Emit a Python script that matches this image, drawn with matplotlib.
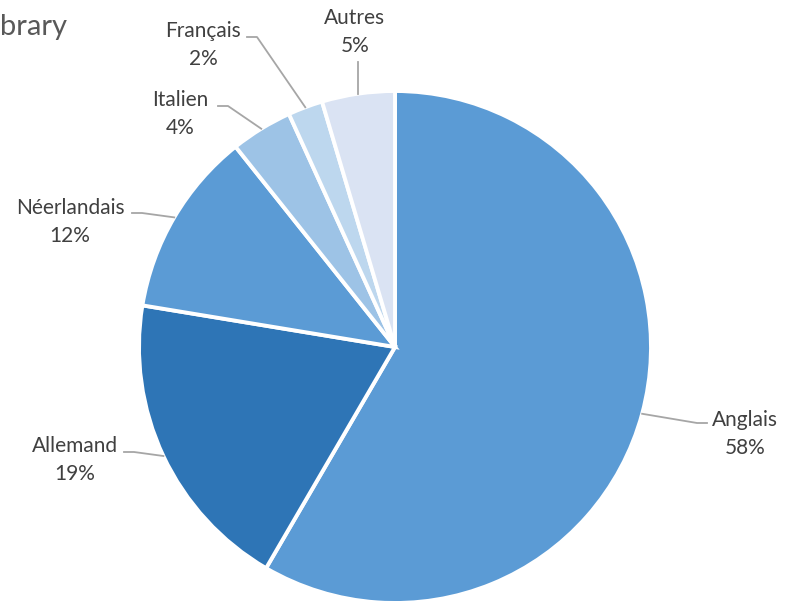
import numpy as np
import matplotlib.pyplot as plt

plt.rcParams['font.family'] = ['Lato', 'DejaVu Sans']

langues = ["Anglais", "Allemand", "Néerlandais", "Italien", "Français", "Autres"]
parts = [58.4, 19.2, 11.7, 3.9, 2.2, 4.6]
couleurs = ["#5B9BD5", "#2E75B6", "#5B9BD5", "#9DC3E6", "#BDD7EE", "#DAE3F3"]

fig = plt.figure(figsize=(7.85, 6.01), dpi=100)
ax = fig.add_axes([0, 0, 1, 1])

cx, cy, r = 395, 601 - 347, 256
wedges, _ = ax.pie(parts, colors=couleurs, startangle=90, counterclock=False,
                   center=(cx, cy), radius=r,
                   wedgeprops=dict(edgecolor="white", linewidth=2.8))

# label position (text centre) and elbow point, in pixels from top-left
lab_pos = {
    "Anglais": ((745, 434), (697, 423), 'left'),
    "Allemand": ((75, 460), (134, 452), 'right'),
    "Néerlandais": ((70, 222), (142, 213), 'right'),
    "Italien": ((180, 114), (228, 106), 'right'),
    "Français": ((203, 45), (257, 37), 'right'),
    "Autres": ((355, 32), (358, 62), 'up'),
}

for w, nom, p in zip(wedges, langues, parts):
    ang = np.deg2rad((w.theta1 + w.theta2) / 2)
    ex, ey = cx + r * np.cos(ang), cy + r * np.sin(ang)
    (tx, ty), (bx, by), side = lab_pos[nom]
    by = 601 - by
    if side == 'up':
        ax.plot([ex, ex], [ey, by], color="#A6A6A6", lw=1.3)
    elif side == 'left':
        ax.plot([ex, bx, bx + 10], [ey, by, by], color="#A6A6A6", lw=1.3)
    else:
        ax.plot([ex, bx, bx - 10], [ey, by, by], color="#A6A6A6", lw=1.3)
    ax.text(tx, 601 - ty, f"{nom}\n{p:.0f}%", ha='center', va='center',
            fontsize=15, color="#404040", linespacing=1.55)

fig.text(0.0, 1 - 27 / 601, "brary", fontsize=21, color="#595959",
         ha='left', va='center')

ax.set_xlim(0, 785)
ax.set_ylim(0, 601)
ax.axis('off')
fig.savefig("out.png", dpi=100)
